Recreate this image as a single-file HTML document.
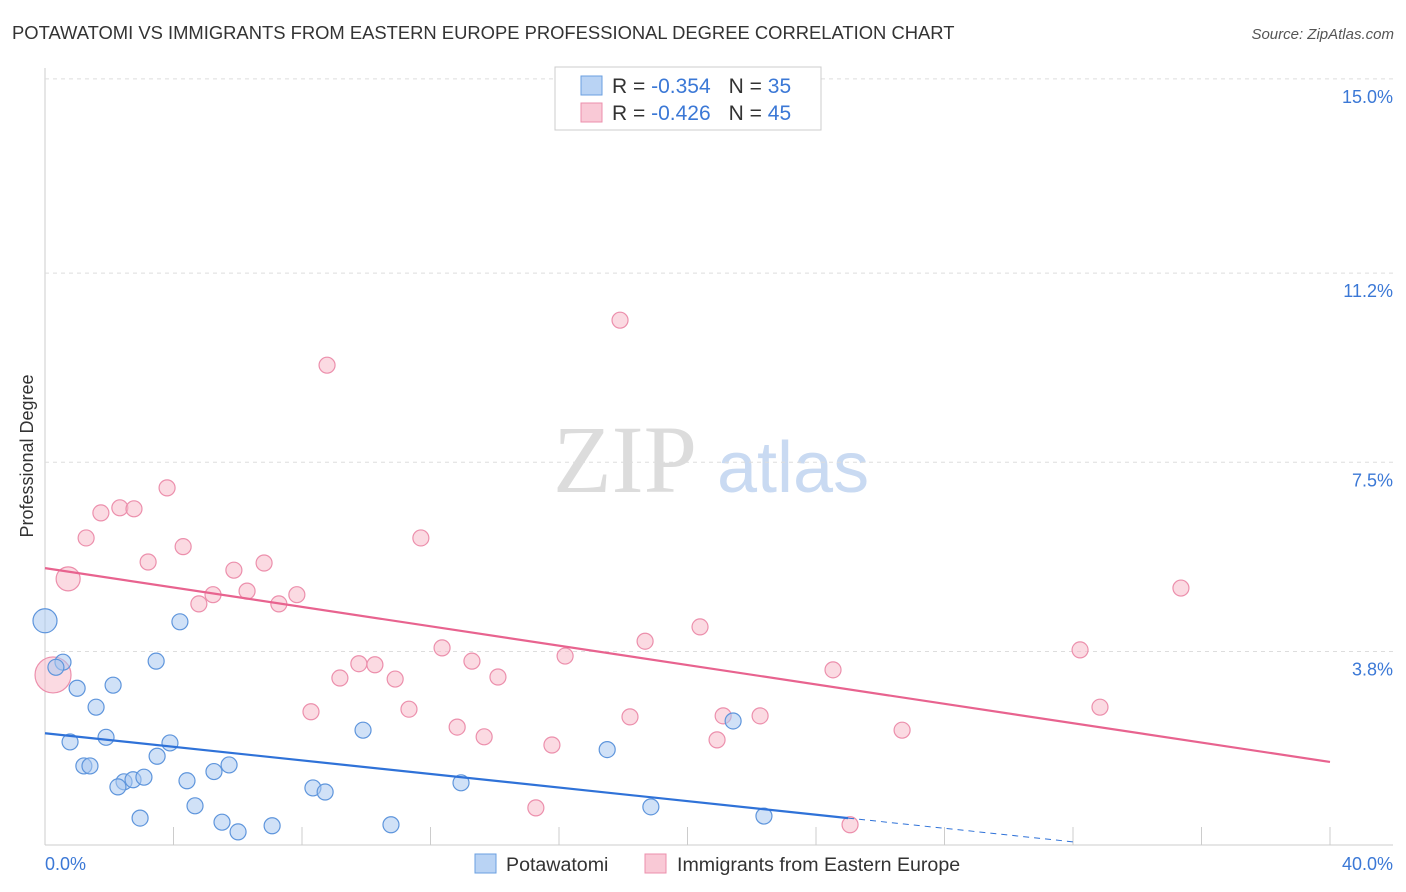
<!DOCTYPE html>
<html><head><meta charset="utf-8"><style>
body{margin:0;background:#fff;font-family:"Liberation Sans",sans-serif;}
#wrap{position:relative;width:1406px;height:892px;overflow:hidden;}
</style></head><body>
<div id="wrap">
<svg id="svg" width="1406" height="892" xmlns="http://www.w3.org/2000/svg">
<text x="12" y="39" font-size="18.4" fill="#333">POTAWATOMI VS IMMIGRANTS FROM EASTERN EUROPE PROFESSIONAL DEGREE CORRELATION CHART</text>
<text x="1394" y="39" font-size="15" fill="#555" font-style="italic" text-anchor="end">Source: ZipAtlas.com</text>
<text x="33" y="456" font-size="18" fill="#333" text-anchor="middle" transform="rotate(-90 33 456)">Professional Degree</text>
<text x="553" y="492" font-size="96" fill="#dcdcdc" font-family="Liberation Serif,serif">ZIP</text>
<text x="717" y="492" font-size="72" fill="#c9daf2">atlas</text>
<g id="grid"></g><g id="marks"></g>
<rect x="555" y="67" width="266" height="63" fill="#fff" stroke="#ccc"/>
<rect x="581" y="76" width="21" height="19" fill="#b9d3f4" stroke="#6a9fe0"/>
<rect x="581" y="103" width="21" height="19" fill="#f9c9d6" stroke="#ec8fac"/>
<text x="612" y="93" font-size="21" fill="#333">R = <tspan fill="#3b78d6">-0.354</tspan><tspan dx="18">N = </tspan><tspan fill="#3b78d6">35</tspan></text>
<text x="612" y="120" font-size="21" fill="#333">R = <tspan fill="#3b78d6">-0.426</tspan><tspan dx="18">N = </tspan><tspan fill="#3b78d6">45</tspan></text>
<rect x="475" y="854" width="21" height="19" fill="#b9d3f4" stroke="#6a9fe0"/>
<text x="506" y="871" font-size="19.6" fill="#333">Potawatomi</text>
<rect x="645" y="854" width="21" height="19" fill="#f9c9d6" stroke="#ec8fac"/>
<text x="677" y="871" font-size="19.6" fill="#333">Immigrants from Eastern Europe</text>
</svg></div>
<script>
const yTicks=[3.8,7.5,11.2,15.0];
const yTickLabels=["3.8%","7.5%","11.2%","15.0%"];
const xTickLabels=["0.0%","40.0%"];
const blueX=[0,0.56,0.34,1.00,2.12,1.59,0.78,1.90,1.21,1.40,2.46,2.27,2.74,3.08,3.49,3.89,3.46,4.20,4.42,4.67,5.26,5.73,5.51,6.01,7.07,8.34,8.72,9.90,10.77,12.95,17.50,18.86,21.42,22.38,2.96];
const blueY=[4.40,3.59,3.49,3.08,3.14,2.71,2.03,2.12,1.56,1.56,1.25,1.15,1.29,1.34,1.75,2.01,3.61,4.38,1.27,0.78,1.45,1.58,0.46,0.27,0.39,1.13,1.05,2.26,0.41,1.23,1.88,0.76,2.44,0.58,0.54];
const pinkX=[0.25,0.72,1.28,1.74,2.33,2.77,3.80,3.21,4.30,4.79,5.23,5.88,6.29,6.82,7.28,7.84,8.28,8.78,9.18,9.77,10.27,10.90,11.33,11.70,12.36,12.83,13.29,13.67,14.10,15.28,15.78,16.19,17.90,18.21,18.68,20.39,20.92,21.11,22.26,24.53,25.06,26.68,32.22,32.84,35.36];
const pinkY=[3.34,5.22,6.02,6.51,6.61,6.59,7.00,5.55,5.85,4.73,4.91,5.39,4.98,5.53,4.73,4.91,2.62,9.40,3.28,3.56,3.54,3.26,2.67,6.02,3.87,2.32,3.61,2.13,3.30,0.74,1.97,3.71,10.28,2.52,4.00,4.28,2.07,2.54,2.54,3.44,0.41,2.26,3.83,2.71,5.04];
const blueBig=[0];const pinkBig=[0,1];
const blueTrend=[2.20,-0.0664];const pinkTrend=[5.43,-0.0948];
const NS="http://www.w3.org/2000/svg";
const X=v=>45+v/40*1285;
const Y=v=>845.7-v/3.75*191.7;
const grid=document.getElementById('grid'),marks=document.getElementById('marks');
function mk(tag,attrs,parent){const e=document.createElementNS(NS,tag);for(const k in attrs)e.setAttribute(k,attrs[k]);parent.appendChild(e);return e;}
let l=mk('line',{x1:45,y1:68,x2:45,y2:845,stroke:'#ccc'},grid);


l=mk('line',{x1:45,y1:845,x2:1393,y2:845,stroke:'#ccc'},grid);


yTicks.forEach((t,i)=>{
 const y=Y(t);
 const g=mk('line',{x1:45,y1:y,x2:1393,y2:y,stroke:'#ddd','stroke-dasharray':'4 4'},grid);
 
 
 const tx=mk('text',{x:1393,y:y+24,'font-size':18,fill:'#3b78d6','text-anchor':'end'},grid);
 tx.textContent=yTickLabels[i];
 
 
});
for(let i=1;i<=10;i++){
 const t=mk('line',{x1:X(i*4),y1:827,x2:X(i*4),y2:845,stroke:'#ccc'},grid);
 
 
}
[[0,45,'start'],[1,1393,'end']].forEach(([i,x,a])=>{
 const tx=mk('text',{x:x,y:870,'font-size':18,fill:'#3b78d6','text-anchor':a},grid);
 tx.textContent=xTickLabels[i];
 
 
});
function dots(xs,ys,big,fill,stroke,name){
 xs.forEach((x,i)=>{
  const c=mk('circle',{cx:X(x),cy:Y(ys[i]),r:big.includes(i)?(i===0&&name==='pink'?18:12):8,fill:fill,'fill-opacity':0.55,stroke:stroke,'stroke-width':1.2},marks);
  
  
 });
}
dots(pinkX,pinkY,pinkBig,'#f7bccb','#ec8fac','pink');
dots(blueX,blueY,blueBig,'#a9c8f0','#5e95dc','blue');
let t=mk('line',{x1:X(0),y1:Y(pinkTrend[0]),x2:X(40),y2:Y(pinkTrend[0]+40*pinkTrend[1]),stroke:'#e8638f','stroke-width':2.2},marks);


t=mk('line',{x1:X(0),y1:Y(blueTrend[0]),x2:X(25),y2:Y(blueTrend[0]+25*blueTrend[1]),stroke:'#2f72d8','stroke-width':2.2},marks);


t=mk('line',{x1:X(25),y1:Y(blueTrend[0]+25*blueTrend[1]),x2:X(32),y2:Y(blueTrend[0]+32*blueTrend[1]),stroke:'#2f72d8','stroke-width':1,'stroke-dasharray':'6 5'},marks);


</script>
</body></html>
